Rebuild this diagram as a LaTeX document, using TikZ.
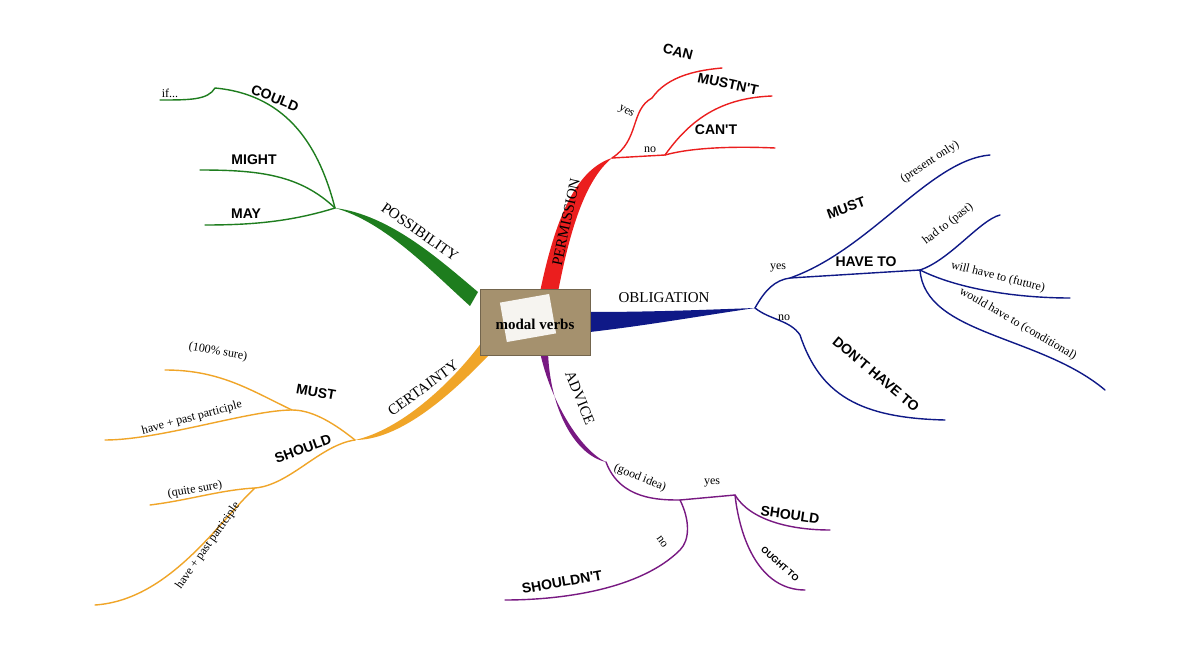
\documentclass[tikz,border=0pt]{standalone}
\usepackage{fontspec}
\setmainfont{Liberation Serif}
\newfontfamily\capsf{Liberation Sans}
\definecolor{cgreen}{RGB}{30,125,30}
\definecolor{cred}{RGB}{235,30,30}
\definecolor{cnavy}{RGB}{15,25,135}
\definecolor{cpurple}{RGB}{120,25,130}
\definecolor{corange}{RGB}{240,165,40}
\definecolor{ctan}{RGB}{165,145,110}
\begin{document}
\begin{tikzpicture}[x=1pt,y=-1pt,
 capt/.style={font=\capsf\bfseries\fontsize{14}{14}\selectfont,inner sep=1pt},
 lab/.style={font=\fontsize{15}{15}\selectfont,inner sep=1pt},
 sm/.style={font=\fontsize{12}{12}\selectfont,inner sep=1pt},
 twig/.style={line width=1.4pt,line cap=round}]
\useasboundingbox (0,0) rectangle (1200,650);
\fill[white] (0,0) rectangle (1200,650);
% main tapered branches
\fill[cgreen] (478,292) .. controls (440,260) and (390,215) .. (335,208) .. controls (385,222) and (430,270) .. (470,306) -- cycle;
\fill[cred] (540,292) .. controls (555,220) and (575,170) .. (612,158) .. controls (585,180) and (570,230) .. (558,292) -- cycle;
\fill[cnavy] (590,312) .. controls (650,312) and (700,310) .. (755,308) .. controls (700,316) and (650,325) .. (590,332) -- cycle;
\fill[cpurple] (540,352) .. controls (550,400) and (580,450) .. (606,462) .. controls (575,455) and (550,410) .. (548,352) -- cycle;
\fill[corange] (482,342) .. controls (450,385) and (400,430) .. (355,440) .. controls (405,440) and (460,385) .. (492,352) -- cycle;
% centre
\node[draw=ctan!70!black,fill=ctan,minimum width=110pt,minimum height=66pt,inner sep=0pt] (c) at (535,322) {};
\node[fill=white,rotate=10,minimum width=50pt,minimum height=40pt,opacity=0.9] (paper) at (528,318) {};
\node[font=\bfseries\fontsize{15}{15}\selectfont] (cl) at (535,324) {modal verbs};
\coordinate (pg) at (335,208);
\coordinate (pr) at (612,158);
\coordinate (pn) at (755,308);
\coordinate (pp) at (606,462);
\coordinate (po) at (355,440);
% main labels
\node[lab,rotate=-35] (lposs) at (420,232) {POSSIBILITY};
\node[lab,rotate=78] (lperm) at (566,222) {PERMISSION};
\node[lab] (lobl) at (664,298) {OBLIGATION};
\node[lab,rotate=-68] (ladv) at (580,398) {ADVICE};
\node[lab,rotate=36] (lcert) at (423,388) {CERTAINTY};
% POSSIBILITY
\coordinate (g1) at (215,88); \coordinate (g1e) at (160,100);
\coordinate (g2) at (200,170); \coordinate (g3) at (205,225);
\draw[cgreen,twig] (pg) .. controls (320,150) and (290,95) .. (g1) .. controls (208,100) and (190,100) .. (g1e);
\draw[cgreen,twig] (pg) .. controls (300,175) and (260,170) .. (g2);
\draw[cgreen,twig] (pg) .. controls (290,222) and (250,225) .. (g3);
\node[capt,rotate=-22] (could) at (275,98) {COULD};
\node[sm] (if) at (170,93) {if...};
\node[capt] (might) at (254,160) {MIGHT};
\node[capt] (may) at (246,214) {MAY};
% PERMISSION
\coordinate (r1) at (652,98); \coordinate (r1e) at (722,68);
\coordinate (r2) at (665,155); \coordinate (r2e) at (772,96); \coordinate (r3e) at (775,148);
\draw[cred,twig] (pr) .. controls (640,140) and (630,110) .. (r1) .. controls (668,75) and (700,70) .. (r1e);
\draw[cred,twig] (pr) -- (r2) .. controls (690,120) and (720,98) .. (r2e);
\draw[cred,twig] (r2) .. controls (690,148) and (730,146) .. (r3e);
\node[sm,rotate=-30] (yes1) at (626,112) {yes};
\node[sm] (no1) at (650,150) {no};
\node[capt,rotate=-15] (can) at (678,52) {CAN};
\node[capt,rotate=-12] (mustnt) at (728,84) {MUSTN'T};
\node[capt] (cant) at (716,130) {CAN'T};
% OBLIGATION
\coordinate (n1) at (790,278); \coordinate (n1e) at (990,155);
\coordinate (n2) at (920,270); \coordinate (n3) at (1000,215);
\coordinate (n4) at (1070,298); \coordinate (n5) at (1105,390);
\coordinate (n6) at (800,335); \coordinate (n6e) at (945,420);
\draw[cnavy,twig] (pn) .. controls (765,290) and (775,280) .. (n1) .. controls (870,250) and (930,160) .. (n1e);
\draw[cnavy,twig] (n1) -- (n2);
\draw[cnavy,twig] (n2) .. controls (950,260) and (980,220) .. (n3);
\draw[cnavy,twig] (n2) .. controls (960,290) and (1020,298) .. (n4);
\draw[cnavy,twig] (n2) .. controls (925,335) and (1040,335) .. (n5);
\draw[cnavy,twig] (pn) .. controls (770,320) and (790,320) .. (n6) .. controls (820,395) and (860,418) .. (n6e);
\node[sm] (yes2) at (778,268) {yes};
\node[sm] (no2) at (784,318) {no};
\node[capt,rotate=20] (must1) at (846,208) {MUST};
\node[sm,rotate=33] (pres) at (930,162) {(present only)};
\node[capt] (haveto) at (866,262) {HAVE TO};
\node[sm,rotate=38] (had) at (948,224) {had to (past)};
\node[sm,rotate=-14] (will) at (998,277) {will have to (future)};
\node[sm,rotate=-30] (would) at (1018,324) {would have to (conditional)};
\node[capt,rotate=-40] (dont) at (876,374) {DON'T HAVE TO};
% ADVICE
\coordinate (p1) at (680,500); \coordinate (p2) at (735,495);
\coordinate (p2e) at (830,530); \coordinate (p3e) at (805,590);
\coordinate (p4) at (680,550); \coordinate (p4e) at (505,600);
\draw[cpurple,twig] (pp) .. controls (620,500) and (660,500) .. (p1) -- (p2) .. controls (750,520) and (790,530) .. (p2e);
\draw[cpurple,twig] (p2) .. controls (740,540) and (760,590) .. (p3e);
\draw[cpurple,twig] (p1) .. controls (690,520) and (690,540) .. (p4) .. controls (640,590) and (560,600) .. (p4e);
\node[sm,rotate=-22] (good) at (640,478) {(good idea)};
\node[sm] (yes3) at (712,483) {yes};
\node[sm,rotate=-55] (no3) at (662,542) {no};
\node[capt,rotate=-8] (should1) at (790,515) {SHOULD};
\node[font=\capsf\bfseries\fontsize{9}{9}\selectfont,rotate=-42] (ought) at (780,564) {OUGHT TO};
\node[capt,rotate=10] (shouldnt) at (562,582) {SHOULDN'T};
% CERTAINTY
\coordinate (o1) at (292,410); \coordinate (o1a) at (165,370);
\coordinate (o1b) at (105,440);
\coordinate (o2) at (255,488); \coordinate (o2a) at (150,505); \coordinate (o2b) at (95,605);
\draw[corange,twig] (po) .. controls (330,420) and (310,410) .. (o1) .. controls (250,390) and (220,370) .. (o1a);
\draw[corange,twig] (o1) .. controls (250,410) and (160,440) .. (o1b);
\draw[corange,twig] (po) .. controls (320,445) and (290,485) .. (o2) .. controls (220,490) and (190,500) .. (o2a);
\draw[corange,twig] (o2) .. controls (220,520) and (170,600) .. (o2b);
\node[sm,rotate=-10] (sure) at (218,352) {(100\% sure)};
\node[capt,rotate=-10] (must2) at (316,392) {MUST};
\node[sm,rotate=15] (hpp1) at (192,418) {have + past participle};
\node[capt,rotate=20] (should2) at (303,449) {SHOULD};
\node[sm,rotate=10] (qs) at (195,490) {(quite sure)};
\node[sm,rotate=55] (hpp2) at (208,546) {have + past participle};
\end{tikzpicture}
\end{document}
